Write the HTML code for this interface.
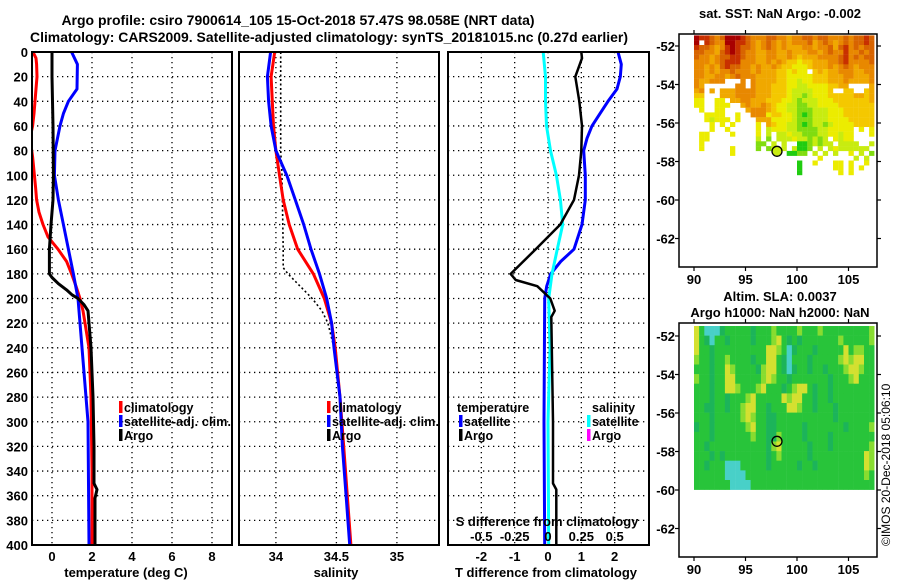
<!DOCTYPE html>
<html><head><meta charset="utf-8"><style>
html,body{margin:0;padding:0;background:#fff;}
svg{display:block;font-family:"Liberation Sans",Arial,sans-serif;font-weight:bold;}
</style></head><body>
<svg id="chart" width="900" height="580" viewBox="0 0 900 580" xmlns="http://www.w3.org/2000/svg">
<rect x="0" y="0" width="900" height="580" fill="#fff"/>
<text x="298" y="25" font-size="14" text-anchor="middle">Argo profile: csiro 7900614_105 15-Oct-2018 57.47S 98.058E (NRT data)</text>
<text x="329" y="42" font-size="14" text-anchor="middle" textLength="598" lengthAdjust="spacingAndGlyphs">Climatology: CARS2009. Satellite-adjusted climatology: synTS_20181015.nc (0.27d earlier)</text>
<g id="layer"></g>
</svg>
<script>
// ---------- profile data ----------
const depthTicks = [0,20,40,60,80,100,120,140,160,180,200,220,240,260,280,300,320,340,360,380,400];
const tempTicks = [0,2,4,6,8];
const salTicks = [34,34.5,35];
const salTickLabels = ["34","34.5","35"];
const tdiffTicks = [-2,-1,0,1,2];
const sdiffTicks = [-0.5,-0.25,0,0.25,0.5];
const sdiffTickLabels = ["-0.5","-0.25","0","0.25","0.5"];

const tClimDepth = [0,5,10,20,30,40,50,60,70,85,100,110,120,130,140,150,160,170,180,190,200,210,240,280,340,400];
const tClim = [-0.95,-0.8,-0.77,-0.75,-0.8,-0.85,-0.9,-0.97,-1.1,-0.97,-0.88,-0.82,-0.77,-0.65,-0.45,-0.2,0.3,0.73,0.98,1.2,1.4,1.55,1.85,1.95,2.0,2.0];
const tSatDepth = [0,10,30,40,50,60,80,100,120,140,160,180,200,240,300,400];
const tSat = [0.98,1.27,1.25,0.82,0.57,0.4,0.15,0.12,0.32,0.57,0.82,1.07,1.3,1.5,1.8,1.85];
const tArgoDepth = [0,20,60,100,120,140,160,180,183,188,193,197,200,205,210,220,240,280,320,350,355,362,400];
const tArgo = [0.0,0.0,0.05,0.07,0.05,-0.05,-0.13,-0.13,0.0,0.32,0.73,1.0,1.3,1.6,1.8,1.85,1.95,2.05,2.1,2.1,2.25,2.15,2.15];

const sDepth = [0,20,40,60,80,100,120,140,160,180,200,220,240,280,320,360,400];
const sSat = [33.956,33.93,33.94,33.96,34.0,34.09,34.16,34.23,34.29,34.36,34.42,34.46,34.48,34.53,34.55,34.58,34.61];
const sClim = [33.99,33.96,33.97,33.98,34.0,34.03,34.06,34.11,34.18,34.31,34.4,34.46,34.49,34.53,34.56,34.59,34.62];
const sArgoDepth = [0,80,100,160,175,180,190,200,210,220,240,280,320,360,400];
const sArgo = [34.04,34.04,34.05,34.06,34.06,34.1,34.2,34.3,34.38,34.43,34.48,34.53,34.55,34.58,34.61];

const dArgoDepth = [0,5,20,40,60,80,100,120,140,160,180,185,190,200,210,215,250,300,350,355,400];
const dArgo = [1.0,1.02,0.82,0.94,1.02,1.0,0.93,0.78,0.37,-0.37,-1.12,-0.97,-0.32,0.07,0.2,0.1,0.12,0.15,0.15,0.25,0.25];
const dSatDepth = [0,10,20,30,40,50,60,70,80,100,120,140,160,170,180,190,200,300,400];
const dSat = [2.1,2.2,2.17,2.07,1.8,1.56,1.32,1.17,1.07,1.12,1.12,1.02,0.78,0.38,0.08,-0.04,-0.1,-0.12,-0.1];
const sDiffDepth = [0,20,40,60,80,100,120,140,160,180,200,240,300,400];
const sDiff = [-0.036,-0.019,-0.019,-0.011,0.019,0.063,0.093,0.11,0.07,0.03,0.005,0.015,0.0,0.005];

// ---------- map data ----------
const lonTicks = [90,95,100,105];
const latTicks = [-52,-54,-56,-58,-60,-62];
const sstRows = [
"98876 79998 76667 76656 67767 76667 67787",
"9.876 69988 76567 65656 66756 76567 67787",
"87765 68987 76567 65655 56656 67578 67677",
"77665 78987 66556 65565 55665 67668 66767",
"76656 77887 66556 65565 45556 66678 67677",
"66656 78886 66556 56544 34455 56678 66667",
"66565 78776 65655 65443 33455 56567 65666",
"66565 66766 65655 54434 33.45 45566 65566",
"66556 65676 66555 54433 33344 45556 65556",
"65566 6...6 .6555 54433 23344 45556 55556",
"65... ...66 .6555 44433 22333 34455 ....5",
"56.5. 55566 66555 44432 22233 34..4 4..45",
"44... 55566 66555 44432 21233 34444 45545",
"33..3 3.556 65554 44332 12223 33444 44445",
"33..3 33..5 65565 43322 11223 33344 44444",
".3..3 3.... 56665 43322 11122 23334 44444",
"..333 3..3. .6663 44332 10122 23334 44444",
"..323 33.3. ..555 33332 11122 23333 44444",
"...3. 3.3.. ..3.5 43322 10122 12333 34444",
"...3. .3... ..3.2 33322 11112 23333 3.3.3",
".33.. ..3.. ..3.2 .2232 21112 23323 3...3",
".33.. ..... ..2.1 .2223 22121 2.323 3....",
".3... ..... ..11. 2.2.. 00121 22.22 22..2",
".3... ..3.. ..1.1 2.2.2 001.2 .2322 2222.",
"..... ..3.. ..... ...00 11.2. 2.2.. 3.2.1",
"..... ..... ..... ..... ....3 ..... .2.2.",
"..... ..... ..... ..... 0..3. ..33. 3..3.",
"..... ..... ..... ..... 0.... ..33. 3.3..",
"..... ..... ..... ..... 0.... ...3. 3...."
];
const slaRows = [
"ygccc tgggg gtggg lgggg lgggl ggggg ggggl",
"ygtcg gtggg gtggg lygtg tgggg ggglg ggggl",
"yggtg ggggg ggggy ylgct gggtg ggggy gllgg",
"lggtg glggg gtggy ygtcg ggtgg gggly lyygg",
"gggtg gylgg ggtly ygtct ggtgg tgggl yylgg",
"lggtg gyygg gggly lggtg ggggg gtggg lyggg",
"gggtg gyylg gglyg ggtgl yygtg gtggg ggggg",
"gggtg gtggg lyggg ggyly yggtg gtggg ggggg",
"ggttg gtggl yyggt gggyy lggtg ggtgg ggggg",
"gggtg ggggl ylggt tgggg ggggg ggtgg ggggg",
"tggtg ggggg lyggt tgggg gtggg ggggt ggggl",
"gggtg ggggg glggt tlggg gtggg gtggg ggggg",
"ggtgg ggggg ggggt lyggg ggtgg gtggg ggggl",
"gggtg tgggg ggggt glggg ggtgg ggggg gggyl",
"ggtgg gcccg ggggt ggggg tggtg ggggg gggyl",
"ggggg gcccc ggggg ggggg ggggg ggggg ggglg",
"ggggg ggccc cgggg ggggg ggggg ggggg ggggg"
];
const argoLon = 98.058;
const argoLat = -57.47;

const SST_COL = ["#20cc10","#80dc10","#c8ec10","#ecec00","#f4c800","#f0a800","#e88800","#d86400","#c83000","#a80000"];
const SLA_COL = {g:"#28c43a", t:"#1cb45a", c:"#48d0c8", l:"#88dc30", y:"#d4e030"};

const NS = "http://www.w3.org/2000/svg";
const layer = document.getElementById('layer');
function mk(tag, attrs, parent){
  const e = document.createElementNS(NS, tag);
  for (const k in attrs) e.setAttribute(k, attrs[k]);
  (parent||layer).appendChild(e);
  return e;
}
function txt(x,y,s,size,anchor,parent){
  const e = mk('text',{x:x,y:y,'font-size':size,'text-anchor':anchor||'middle'},parent);
  e.textContent = s;
  return e;
}

const Y0 = 52, YS = 1.2325;
function yD(d){ return Y0 + d*YS; }
const YB = yD(400);

function panel(x0,x1,vmin,vmax,name){
  const g = mk('g',{});
  
  
  const xf = v => x0 + (v-vmin)/(vmax-vmin)*(x1-x0);
  return {g, xf, x0, x1};
}
function grid(p, xvals){
  depthTicks.forEach(d=>{
    if(d===0||d===400) return;
    const l = mk('line',{x1:p.x0,x2:p.x1,y1:yD(d),y2:yD(d),stroke:'#000','stroke-width':1.3,'stroke-dasharray':'1.3,3.7'},p.g);
    
    
  });
  xvals.forEach(v=>{
    const x = p.xf(v);
    const l = mk('line',{x1:x,x2:x,y1:Y0,y2:YB,stroke:'#000','stroke-width':1.3,'stroke-dasharray':'1.3,3.7'},p.g);
    
    
  });
}
function frame(p){
  const r = mk('rect',{x:p.x0,y:Y0,width:p.x1-p.x0,height:YB-Y0,fill:'none',stroke:'#000','stroke-width':2},p.g);
  
  
}
function line(p, vals, depths, color, w, name, dash){
  const pts = vals.map((v,i)=>p.xf(v).toFixed(1)+','+yD(depths[i]).toFixed(1)).join(' ');
  const a = {points:pts,fill:'none',stroke:color,'stroke-width':w,'stroke-linejoin':'round'};
  if(dash) a['stroke-dasharray']=dash;
  const e = mk('polyline',a,p.g);
  
  
  return e;
}
function clip(p,id){
  const c = mk('clipPath',{id:id});
  mk('rect',{x:p.x0,y:Y0,width:p.x1-p.x0,height:YB-Y0},c);
  return 'url(#'+id+')';
}
function legendItem(x,y,color,label,parent){
  if(color){
    const b = mk('rect',{x:x,y:y-11,width:3.5,height:12,fill:color},parent);
    
    
  }
  const t = txt(x+5,y,label,12.5,'start',parent);
  
  
  return t;
}

// ----- Panel 1: temperature -----
const p1 = panel(32,232,-1,9,'temperature-panel');
grid(p1,tempTicks);
const c1 = mk('g',{'clip-path':clip(p1,'c1')},p1.g);
const P1 = Object.assign({},p1,{g:c1});
line(P1,tClim,tClimDepth,'#ff0000',3,'temp-climatology-line');
line(P1,tSat,tSatDepth,'#0000ff',3,'temp-satellite-line');
line(P1,tArgo,tArgoDepth,'#000',3,'temp-argo-line');
frame(p1);
depthTicks.forEach(d=>{
  const t = txt(28,yD(d)+5,String(d),13,'end',p1.g);
  
  
});
tempTicks.forEach(v=>{
  const t = txt(p1.xf(v),561,String(v),13,'middle',p1.g);
  
  
});
const xt1 = txt(126,577,'temperature (deg C)',13,'middle',p1.g);


legendItem(119,412,'#ff0000','climatology',p1.g);
legendItem(119,426,'#0000ff','satellite-adj. clim.',p1.g).setAttribute('textLength','107');
legendItem(119,440,'#000','Argo',p1.g);

// ----- Panel 2: salinity -----
const p2 = panel(239,439,33.695,35.348,'salinity-panel');
grid(p2,salTicks);
const c2 = mk('g',{'clip-path':clip(p2,'c2')},p2.g);
const P2 = Object.assign({},p2,{g:c2});
line(P2,sArgo,sArgoDepth,'#000',1.6,'sal-argo-line','2,2.5');
line(P2,sClim,sDepth,'#ff0000',3,'sal-climatology-line');
line(P2,sSat,sDepth,'#0000ff',3,'sal-satellite-line');
frame(p2);
salTicks.forEach((v,i)=>{
  const t = txt(p2.xf(v),561,salTickLabels[i],13,'middle',p2.g);
  
  
});
const xt2 = txt(336,577,'salinity',13,'middle',p2.g);


legendItem(327,412,'#ff0000','climatology',p2.g);
legendItem(327,426,'#0000ff','satellite-adj. clim.',p2.g).setAttribute('textLength','107');
legendItem(327,440,'#000','Argo',p2.g);

// ----- Panel 3: differences -----
const p3 = panel(448,649,-3,3.03,'difference-panel');
const xs = s => p3.xf(s*4);
grid(p3,tdiffTicks);
const c3 = mk('g',{'clip-path':clip(p3,'c3')},p3.g);
const P3 = Object.assign({},p3,{g:c3});
line(P3,dSat,dSatDepth,'#0000ff',3,'tdiff-satellite-line');
const P3s = Object.assign({},P3,{xf:xs});
line(P3s,sDiff,sDiffDepth,'#00ffff',3,'sdiff-satellite-line');
line(P3,dArgo,dArgoDepth,'#000',2.5,'tdiff-argo-line');
frame(p3);
tdiffTicks.forEach(v=>{
  const t = txt(p3.xf(v),561,String(v),13,'middle',p3.g);
  
  
});
sdiffTicks.forEach((v,i)=>{
  const t = txt(xs(v),541,sdiffTickLabels[i],13,'middle',p3.g);
  
  
});
const st3 = txt(547,526,'S difference from climatology',13,'middle',p3.g);


const xt3 = txt(546,577,'T difference from climatology',13,'middle',p3.g);


legendItem(452,412,null,'temperature',p3.g);
legendItem(459,426,'#0000ff','satellite',p3.g);
legendItem(459,440,'#000','Argo',p3.g);
legendItem(587,412,null,'salinity',p3.g);
legendItem(587,426,'#00ffff','satellite',p3.g);
legendItem(587,440,'#ff00ff','Argo',p3.g);

// ----- Maps -----
const MX0 = 679, MX1 = 877;
const lonX = lon => 694 + (lon-90)*10.3;
function mapPanel(top, bottom, lat0y, name){
  const g = mk('g',{});
  
  
  const latY = lat => lat0y + (-52 - lat)*19.25;
  return {g, latY, top, bottom};
}
function mapFrame(m){
  const r = mk('rect',{x:MX0,y:m.top,width:MX1-MX0,height:m.bottom-m.top,fill:'none',stroke:'#000','stroke-width':1.5},m.g);
  
  
  lonTicks.forEach(l=>{
    const x = lonX(l);
    mk('line',{x1:x,x2:x,y1:m.top,y2:m.top-4,stroke:'#000','stroke-width':1.2},m.g);
    mk('line',{x1:x,x2:x,y1:m.bottom,y2:m.bottom+4,stroke:'#000','stroke-width':1.2},m.g);
    const t = txt(x,m.bottom+17,String(l),13,'middle',m.g);
    
    
  });
  latTicks.forEach(l=>{
    const y = m.latY(l);
    mk('line',{x1:MX0,x2:MX0-4,y1:y,y2:y,stroke:'#000','stroke-width':1.2},m.g);
    mk('line',{x1:MX1,x2:MX1+4,y1:y,y2:y,stroke:'#000','stroke-width':1.2},m.g);
    const t = txt(MX0-4,y+5,String(l),13,'end',m.g);
    
    
  });
  const c = mk('circle',{cx:lonX(argoLon),cy:m.latY(argoLat),r:5,fill:'none',stroke:'#000','stroke-width':1.3},m.g);
  
  
}

// SST map
const m1 = mapPanel(34,267,46,'sst-map');
sstRows.forEach((row,ri)=>{
  const r = row.replace(/ /g,'');
  for(let ci=0; ci<r.length; ci++){
    const ch = r[ci];
    if(ch==='.') continue;
    const lon = 90 + ci*0.5, lat = -51.45 - ri*0.25;
    const x = lonX(lon), y = m1.latY(lat);
    const cell = mk('rect',{x:x.toFixed(1),y:y.toFixed(1),width:5.3,height:5,fill:SST_COL[+ch]},m1.g);
    
    
  }
});
const mc = mk('circle',{cx:lonX(argoLon),cy:m1.latY(argoLat),r:5,fill:'#c8ec10'},m1.g);


mapFrame(m1);
const t1 = txt(780,18,'sat. SST: NaN Argo: -0.002',13,'middle',m1.g);



// SLA map
const m2 = mapPanel(323,557,336,'sla-map');
slaRows.forEach((row,ri)=>{
  const r = row.replace(/ /g,'');
  for(let ci=0; ci<r.length; ci++){
    const ch = r[ci];
    const lon = 90 + ci*0.5, lat = -51.48 - ri*0.5;
    const x = lonX(lon), y = m2.latY(lat);
    const w = Math.min(5.4, MX1 - x);
    const cell = mk('rect',{x:x.toFixed(1),y:y.toFixed(1),width:w.toFixed(1),height:9.9,fill:SLA_COL[ch]||SLA_COL.g},m2.g);
    
    
  }
});
mapFrame(m2);
const t2 = txt(780,301,'Altim. SLA: 0.0037',13,'middle',m2.g);


const t3 = txt(780,317,'Argo h1000: NaN h2000: NaN',13,'middle',m2.g);



const cp = mk('text',{x:0,y:0,'font-size':12,'font-weight':'normal','text-anchor':'start',transform:'translate(890,546) rotate(-90)'});
cp.textContent = '\u00A9IMOS 20-Dec-2018 05:06:10';


</script>
</body></html>
